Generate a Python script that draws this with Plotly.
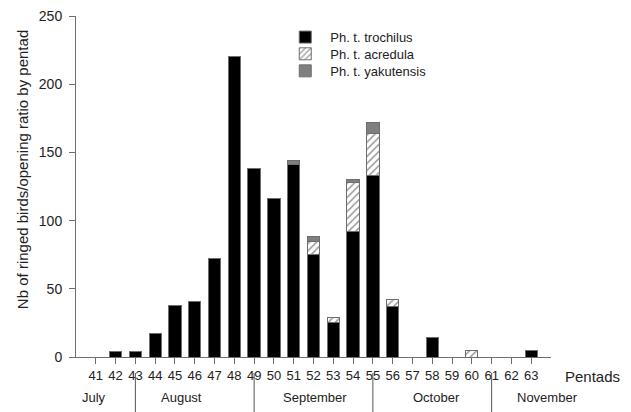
import plotly.graph_objects as go

pentads = list(range(41, 64))
trochilus = [None, 4, 4, 17, 38, 41, 72, 220, 138, 116, 141, 75, 25, 92, 133, 37, None, 14, None, None, None, None, 5]
acredula = [None, None, None, None, None, None, None, None, None, None, None, 10, 4, 36, 31, 5, None, None, None, 5, None, None, None]
yakutensis = [None, None, None, None, None, None, None, None, None, None, 3, 3, None, 2, 8, None, None, None, None, None, None, None, None]
months = ["July", "August", "September", "October", "November"]
month_centers = [40.9, 45.35, 52.1, 58.2, 63.8]
month_bounds = [43, 49, 55, 61]

font_fam = "Liberation Sans, Arial, sans-serif"
edge = dict(color="#6e6e6e", width=1)

fig = go.Figure()
fig.add_trace(go.Bar(x=pentads, y=trochilus, name="Ph. t. trochilus", legend="legend",
                     marker=dict(color="black", line=edge), width=0.62))
fig.add_trace(go.Bar(x=pentads, y=acredula, name="Ph. t. acredula", legend="legend2",
                     marker=dict(color="white", line=edge,
                                 pattern=dict(shape="/", fgcolor="#333333", bgcolor="white",
                                              size=5, solidity=0.3)), width=0.62))
fig.add_trace(go.Bar(x=pentads, y=yakutensis, name="Ph. t. yakutensis", legend="legend3",
                     marker=dict(color="#7f7f7f", line=edge), width=0.62))

for b in month_bounds:
    fig.add_shape(type="line", xref="x", yref="paper", x0=b, x1=b, y0=-0.047, y1=-0.18,
                  line=dict(color="#555555", width=1))

for m, c in zip(months, month_centers):
    fig.add_annotation(x=c, y=-0.12, xref="x", yref="paper", text=m, showarrow=False,
                       font=dict(size=13, color="#222222", family=font_fam), yanchor="middle")

fig.add_annotation(x=1.0, y=-0.057, xref="paper", yref="paper", text="Pentads", showarrow=False,
                   xanchor="left", yanchor="middle", xshift=12,
                   font=dict(size=15, color="#222222", family=font_fam))

fig.add_annotation(x=0, y=0.548, xref="paper", yref="paper",
                   text="Nb of ringed birds/opening ratio by pentad", showarrow=False,
                   textangle=-90, xanchor="center", yanchor="middle", xshift=-54,
                   font=dict(size=15, color="#222222", family=font_fam))

leg_common = dict(x=0.43, xanchor="left", yanchor="middle", bgcolor="rgba(0,0,0,0)",
                  font=dict(size=13, color="#222222", family=font_fam), itemwidth=40)

fig.update_layout(
    barmode="stack",
    width=631, height=412,
    margin=dict(l=68, r=88, t=8, b=63),
    plot_bgcolor="white", paper_bgcolor="white",
    font=dict(family=font_fam, size=13, color="#222222"),
    showlegend=True,
    legend=dict(y=0.938, **leg_common),
    legend2=dict(y=0.889, **leg_common),
    legend3=dict(y=0.839, **leg_common),
    xaxis=dict(range=[40, 64], tickvals=pentads, ticktext=[str(p) for p in pentads],
               automargin=False,
               showgrid=False, zeroline=False, showline=True, linecolor="#6e6e6e", linewidth=1,
               ticks="outside", ticklen=6, tickcolor="#6e6e6e", tickfont=dict(size=13)),
    yaxis=dict(range=[0, 250], tickvals=[0, 50, 100, 150, 200, 250], automargin=False,
               showgrid=False, zeroline=False, showline=True, linecolor="#6e6e6e", linewidth=1,
               ticks="outside", ticklen=6, tickcolor="#6e6e6e", tickfont=dict(size=14),
               ticklabelstandoff=4, ticklabeloverflow="allow"),
)

fig.write_html("out.html")
